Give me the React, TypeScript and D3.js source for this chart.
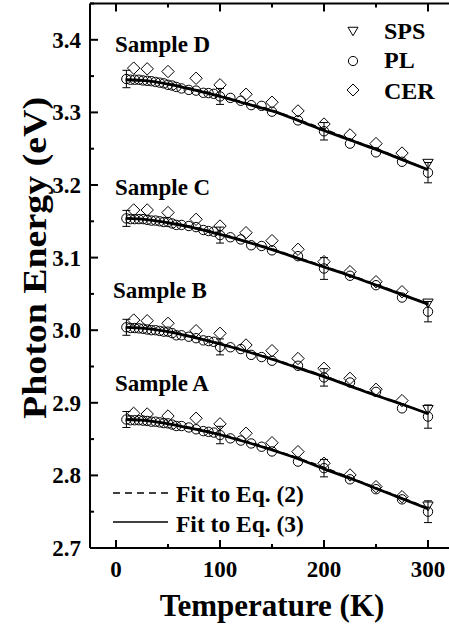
import React from "react";
import { scaleLinear, line, curveMonotoneX, range } from "d3";

// temperatures (K)
const plTemps = [10, 14, 18, 22, 26, 30, 34, 38, 42, 46, 50, 54, 58, 63, 70, 77, 84, 89, 94, 100, 110, 120, 130, 140, 150, 175, 200, 225, 250, 275, 300];
const cerTemps = [17, 30, 50, 77, 100, 125, 150, 175, 200, 225, 250, 275];
const fitTemps = [10, 25, 50, 75, 100, 125, 150, 175, 200, 225, 250, 275, 300];
const errTemps = [10, 100, 200, 300];
const spsTemps = [300];

const sampleNames = ["Sample A", "Sample B", "Sample C", "Sample D"];

// PL peak energies (eV)
const plA = [2.877, 2.876, 2.876, 2.876, 2.8755, 2.875, 2.874, 2.874, 2.873, 2.872, 2.8717, 2.870, 2.868, 2.868, 2.866, 2.8635, 2.861, 2.860, 2.859, 2.8556, 2.851, 2.848, 2.844, 2.8395, 2.833, 2.819, 2.810, 2.7946, 2.781, 2.767, 2.750];
const plB = [3.004, 3.003, 3.003, 3.0025, 3.002, 3.001, 3.000, 3.000, 2.999, 2.998, 2.998, 2.996, 2.993, 2.993, 2.991, 2.989, 2.986, 2.985, 2.984, 2.977, 2.9765, 2.974, 2.966, 2.963, 2.958, 2.951, 2.935, 2.928, 2.915, 2.8924, 2.881];
const plC = [3.154, 3.153, 3.153, 3.153, 3.153, 3.152, 3.151, 3.151, 3.150, 3.149, 3.149, 3.147, 3.145, 3.145, 3.1435, 3.142, 3.138, 3.1366, 3.1357, 3.131, 3.128, 3.125, 3.117, 3.116, 3.110, 3.102, 3.085, 3.075, 3.062, 3.045, 3.0255];
const plD = [3.346, 3.345, 3.345, 3.345, 3.344, 3.3435, 3.343, 3.342, 3.341, 3.340, 3.338, 3.337, 3.335, 3.333, 3.331, 3.330, 3.327, 3.3266, 3.3256, 3.322, 3.320, 3.316, 3.310, 3.309, 3.301, 3.289, 3.274, 3.257, 3.245, 3.232, 3.217];

// CER energies (eV)
const cerA = [2.8855, 2.8846, 2.8818, 2.8787, 2.871, 2.858, 2.845, 2.8327, 2.8167, 2.8006, 2.7845, 2.7707];
const cerB = [3.014, 3.013, 3.0095, 2.9993, 2.9957, 2.9796, 2.9718, 2.961, 2.9475, 2.9337, 2.9186, 2.903];
const cerC = [3.1656, 3.1656, 3.162, 3.1527, 3.1435, 3.1343, 3.1233, 3.1114, 3.0944, 3.0806, 3.0668, 3.053];
const cerD = [3.361, 3.360, 3.3563, 3.347, 3.338, 3.325, 3.314, 3.302, 3.284, 3.269, 3.257, 3.244];

// SPS energies (eV)
const spsA = [2.758];
const spsB = [2.891];
const spsC = [3.0375];
const spsD = [3.230];

// PL error bar half widths (eV)
const errA = [0.011, 0.012, 0.012, 0.015];
const errB = [0.011, 0.011, 0.012, 0.016];
const errC = [0.011, 0.011, 0.015, 0.014];
const errD = [0.012, 0.011, 0.012, 0.014];

// fit curves
const fit3A = [2.877, 2.876, 2.871, 2.864, 2.856, 2.846, 2.835, 2.823, 2.809, 2.796, 2.782, 2.768, 2.754];
const fit3B = [3.004, 3.003, 2.998, 2.990, 2.981, 2.971, 2.960, 2.948, 2.936, 2.923, 2.910, 2.898, 2.885];
const fit3C = [3.154, 3.153, 3.148, 3.141, 3.132, 3.122, 3.111, 3.099, 3.087, 3.075, 3.062, 3.049, 3.036];
const fit3D = [3.345, 3.344, 3.339, 3.331, 3.322, 3.312, 3.302, 3.289, 3.275, 3.262, 3.249, 3.235, 3.221];
const fit2A = [2.877, 2.876, 2.871, 2.865, 2.857, 2.847, 2.836, 2.824, 2.811, 2.797, 2.783, 2.769, 2.755];
const fit2B = [3.004, 3.003, 2.998, 2.991, 2.982, 2.972, 2.961, 2.949, 2.937, 2.924, 2.911, 2.898, 2.885];
const fit2C = [3.154, 3.153, 3.148, 3.142, 3.133, 3.123, 3.112, 3.100, 3.088, 3.076, 3.063, 3.050, 3.036];
const fit2D = [3.345, 3.344, 3.339, 3.332, 3.323, 3.313, 3.303, 3.290, 3.277, 3.263, 3.250, 3.236, 3.221];

const xTicks = [0, 100, 200, 300];
const yTicks = [2.7, 2.8, 2.9, 3.0, 3.1, 3.2, 3.3, 3.4];
const legendNames = ["SPS", "PL", "CER"];
const fitNames = ["Fit to Eq. (2)", "Fit to Eq. (3)"];

const samples = [
  { name: sampleNames[0], pl: plA, cer: cerA, sps: spsA, err: errA, f2: fit2A, f3: fit3A, lx: 115, ly: 391 },
  { name: sampleNames[1], pl: plB, cer: cerB, sps: spsB, err: errB, f2: fit2B, f3: fit3B, lx: 113, ly: 298 },
  { name: sampleNames[2], pl: plC, cer: cerC, sps: spsC, err: errC, f2: fit2C, f3: fit3C, lx: 115, ly: 195 },
  { name: sampleNames[3], pl: plD, cer: cerD, sps: spsD, err: errD, f2: fit2D, f3: fit3D, lx: 115, ly: 52 },
];

const font = "'Liberation Serif', 'Times New Roman', serif";

const tri = (cx: number, cy: number, s: number) =>
  `M${cx - s},${cy - s * 0.75}L${cx + s},${cy - s * 0.75}L${cx},${cy + s * 0.95}Z`;
const dia = (cx: number, cy: number, s: number) =>
  `M${cx},${cy - s}L${cx + s},${cy}L${cx},${cy + s}L${cx - s},${cy}Z`;

const App = () => {
  const width = 449;
  const height = 629;
  const left = 90;
  const bottom = 548;
  const x = scaleLinear().domain([-25, 325]).range([left, 454]);
  const y = scaleLinear().domain([2.7, 3.45]).range([bottom, 3.5]);
  const top = y(3.45);
  const right = x(325);

  const ln = line<[number, number]>()
    .x((d) => x(d[0]))
    .y((d) => y(d[1]))
    .curve(curveMonotoneX);

  const xMinor = range(0, 325, 50);
  const yMinor = range(2.7, 3.451, 0.05);

  return (
    <svg width={width} height={height} style={{ position: "absolute", left: 0, top: 0, background: "#fff" }}>
      <rect width={width} height={height} fill="#fff" />
      {/* fits */}
      {samples.map((s) => (
        <g key={s.name + "fit"}>
          <path d={ln(fitTemps.map((t, i) => [t, s.f3[i]]) as any) || ""} fill="none" stroke="#000" strokeWidth={2.8} />
          <path d={ln(fitTemps.map((t, i) => [t, s.f2[i]]) as any) || ""} fill="none" stroke="#000" strokeWidth={1.6} strokeDasharray="6,4" />
        </g>
      ))}
      {/* data */}
      {samples.map((s) => (
        <g key={s.name} fill="none" stroke="#000" strokeWidth={1}>
          {errTemps.map((t, i) => {
            const v = s.pl[plTemps.indexOf(t)];
            const y1 = y(v + s.err[i]);
            const y2 = y(v - s.err[i]);
            const cx = x(t);
            return (
              <g key={t}>
                <line x1={cx} x2={cx} y1={y1} y2={y2} />
                <line x1={cx - 4} x2={cx + 4} y1={y1} y2={y1} />
                <line x1={cx - 4} x2={cx + 4} y1={y2} y2={y2} />
              </g>
            );
          })}
          {plTemps.map((t, i) => (
            <circle key={t} cx={x(t)} cy={y(s.pl[i])} r={4.7} />
          ))}
          {cerTemps.map((t, i) => (
            <path key={t} d={dia(x(t), y(s.cer[i]), 6.2)} />
          ))}
          {spsTemps.map((t, i) => (
            <path key={t} d={tri(x(t), y(s.sps[i]), 5.2)} />
          ))}
          <text x={s.lx} y={s.ly} stroke="none" fill="#000" fontFamily={font} fontWeight="bold" fontSize={23}>
            {s.name}
          </text>
        </g>
      ))}
      {/* frame */}
      <g stroke="#000" strokeWidth={2} fill="none">
        <line x1={left} x2={right} y1={bottom} y2={bottom} />
        <line x1={left} x2={right} y1={top} y2={top} />
        <line x1={left} x2={left} y1={top} y2={bottom} />
        {xMinor.map((t) => {
          const len = t % 100 === 0 ? 8 : 4;
          return (
            <g key={t}>
              <line x1={x(t)} x2={x(t)} y1={bottom} y2={bottom - len} />
              <line x1={x(t)} x2={x(t)} y1={top} y2={top + len} />
            </g>
          );
        })}
        {yMinor.map((v, i) => {
          const len = i % 2 === 0 ? 8 : 4;
          return <line key={i} x1={left} x2={left + len} y1={y(v)} y2={y(v)} />;
        })}
      </g>
      {/* tick labels */}
      <g fontFamily={font} fontWeight="bold" fontSize={23} fill="#000">
        {xTicks.map((t) => (
          <text key={t} x={x(t)} y={577} textAnchor="middle">
            {t}
          </text>
        ))}
        {yTicks.map((v) => (
          <text key={v} x={81} y={y(v) + 8} textAnchor="end">
            {v.toFixed(1)}
          </text>
        ))}
      </g>
      <text x={x(150)} y={616} textAnchor="middle" fontFamily={font} fontWeight="bold" fontSize={31}>
        Temperature (K)
      </text>
      <text
        transform={`translate(46, 258) rotate(-90)`}
        textAnchor="middle"
        fontFamily={font}
        fontWeight="bold"
        fontSize={33}
        textLength={322}
        lengthAdjust="spacingAndGlyphs"
      >
        Photon Energy (eV)
      </text>
      {/* legend */}
      <g fill="none" stroke="#000" strokeWidth={1}>
        <path d={tri(353, 31, 5)} />
        <circle cx={353} cy={61} r={4.6} />
        <path d={dia(353, 90, 6)} />
      </g>
      <g fontFamily={font} fontWeight="bold" fontSize={24} fill="#000">
        {legendNames.map((n, i) => (
          <text key={n} x={384} y={[39, 68, 99][i]}>
            {n}
          </text>
        ))}
      </g>
      <g fontFamily={font} fontWeight="bold" fontSize={23.5} fill="#000">
        {fitNames.map((n, i) => (
          <text key={n} x={176} y={[502, 532][i]}>
            {n}
          </text>
        ))}
      </g>
      <line x1={113} x2={168} y1={493} y2={493} stroke="#000" strokeWidth={1.6} strokeDasharray="7,5" />
      <line x1={113} x2={168} y1={522} y2={522} stroke="#000" strokeWidth={1.6} />
    </svg>
  );
};

export default App;
